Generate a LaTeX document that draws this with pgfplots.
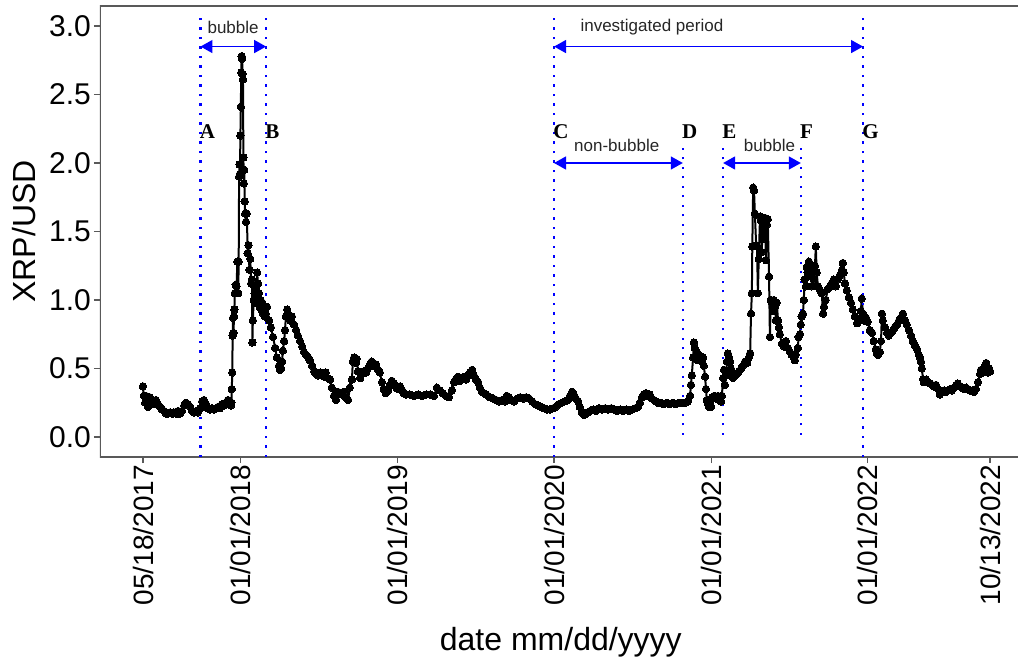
\documentclass[border=0pt]{standalone}
\usepackage{pgfplots}
\pgfplotsset{compat=1.18}
\usepackage{fontspec}
\setmainfont{Liberation Sans}
\newfontfamily\letterfont{Liberation Serif}
\usetikzlibrary{arrows.meta}
\begin{document}
\begin{tikzpicture}
\begin{axis}[
  name=ax,
  scale only axis,
  width=918pt, height=451pt,
  xmin=-100.2, xmax=2039.2,
  ymin=-0.146, ymax=3.146,
  axis line style={draw=none},
  xtick={0,228,593,958,1324,1689,1974},
  xticklabels={05/18/2017,01/01/2018,01/01/2019,01/01/2020,01/01/2021,01/01/2022,10/13/2022},
  ytick={0,0.5,1,1.5,2,2.5,3},
  yticklabels={0.0,0.5,1.0,1.5,2.0,2.5,3.0},
  tick align=outside,
  major tick length=6pt,
  tick style={black!65, line width=1.2pt},
  xtick pos=bottom, ytick pos=left,
  /pgf/number format/assume math mode=true,
  ticklabel style={black},
  x tick label style={font=\fontsize{28}{28}\selectfont, rotate=90, anchor=east, inner sep=2pt},
  y tick label style={font=\fontsize{30}{30}\selectfont, inner sep=3pt},
  xlabel={date mm/dd/yyyy},
  ylabel={XRP/USD},
  label style={font=\fontsize{32}{32}\selectfont, black},
  xlabel style={at={(rel axis cs:0.502,0)}, anchor=center, yshift=-185pt},
  ylabel style={at={(rel axis cs:0,0.5)}, anchor=center, rotate=0, yshift=76pt},
  clip=true,
]
\addplot[black, line width=2pt, line join=round, mark=*, mark size=3.7pt, mark options={fill=black, draw=black, line width=0pt}] coordinates {
(0,0.37)(2,0.30)(5,0.25)(7,0.30)(9,0.26)(12,0.22)(14,0.27)(16,0.29)(21,0.26)(26,0.24)(30,0.27)(35,0.24)(40,0.22)(44,0.20)(49,0.19)(54,0.17)(58,0.17)(63,0.18)(68,0.17)(72,0.18)(77,0.17)(82,0.19)(86,0.17)(91,0.19)(96,0.23)(100,0.25)(105,0.24)(110,0.22)(114,0.19)(119,0.18)(124,0.19)(128,0.18)(133,0.21)(138,0.26)(142,0.27)(147,0.24)(151,0.21)(156,0.20)(161,0.21)(165,0.20)(170,0.21)(175,0.22)(179,0.21)(184,0.24)(189,0.23)(193,0.25)(198,0.27)(203,0.25)(205,0.23)
(206,0.25)(207,0.35)(208,0.47)(209,0.74)(210,0.87)(211,0.76)(212,0.88)(213,0.93)(214,1.05)(216,1.11)(218,1.10)(220,1.28)(222,1.05)(223,1.28)(224,1.90)(225,1.99)(226,1.92)(227,2.20)(228,2.41)(229,2.66)(230,2.78)(231,2.76)(232,2.65)(233,2.61)(234,2.04)(235,1.85)(236,1.95)(237,1.72)(238,1.63)(240,1.57)(242,1.63)(244,1.34)(246,1.40)(248,1.22)(250,1.30)(252,1.12)(254,1.15)(255,0.69)(256,0.85)(258,1.00)(260,1.05)(262,0.98)(264,1.10)(266,1.20)(268,1.12)(270,1.05)(272,0.95)(274,1.00)(276,0.93)(278,0.98)(280,0.90)(282,0.95)(284,0.88)(286,0.90)
(289,0.95)(294,0.85)(298,0.80)(303,0.73)(308,0.65)(312,0.58)(317,0.52)(319,0.49)(322,0.50)(324,0.55)(326,0.63)(329,0.70)(331,0.78)(333,0.88)(336,0.93)(338,0.90)(343,0.85)(347,0.88)(352,0.82)(357,0.78)(361,0.74)(366,0.70)(371,0.66)(375,0.62)(380,0.60)(385,0.58)(389,0.56)(394,0.52)(399,0.48)(403,0.46)(408,0.45)(413,0.47)(417,0.45)(422,0.44)(426,0.47)(431,0.43)(436,0.42)(440,0.36)(445,0.30)(450,0.27)(454,0.33)(459,0.32)(464,0.31)(468,0.33)(473,0.29)(478,0.27)(482,0.36)(487,0.42)(489,0.55)(492,0.58)(496,0.54)(498,0.57)(501,0.48)(506,0.43)(510,0.46)(515,0.48)(520,0.47)(524,0.50)(529,0.53)(533,0.55)(538,0.52)(543,0.53)(548,0.49)(552,0.47)(557,0.40)(561,0.35)(566,0.32)(571,0.34)(575,0.38)(580,0.41)(585,0.39)(590,0.36)(594,0.35)(599,0.37)(604,0.34)(608,0.32)(613,0.31)(622,0.31)(632,0.30)(641,0.31)(650,0.30)(660,0.31)(669,0.31)(678,0.30)(685,0.36)(692,0.34)(699,0.32)(706,0.30)(713,0.29)(720,0.34)(725,0.40)(729,0.42)(734,0.44)(739,0.41)(743,0.43)(748,0.44)(753,0.42)(757,0.45)(762,0.47)(767,0.49)(771,0.45)(776,0.42)(781,0.40)(785,0.36)(790,0.33)(795,0.32)(799,0.31)(804,0.30)(809,0.29)(816,0.28)(823,0.27)(830,0.26)(837,0.27)(844,0.26)(848,0.30)(853,0.29)(858,0.27)(865,0.26)(872,0.28)(879,0.29)(886,0.28)(893,0.29)(900,0.28)(907,0.26)(914,0.24)(921,0.23)(928,0.22)(935,0.21)(942,0.20)(948,0.20)(956,0.21)(962,0.22)(969,0.24)(976,0.25)(983,0.26)(990,0.27)(995,0.30)(1000,0.33)(1004,0.31)(1009,0.28)(1014,0.26)(1018,0.22)(1023,0.18)(1028,0.16)(1032,0.17)(1037,0.18)(1042,0.19)(1049,0.20)(1056,0.19)(1063,0.21)(1070,0.20)(1077,0.21)(1084,0.20)(1091,0.21)(1098,0.20)(1105,0.19)(1112,0.20)(1119,0.19)(1126,0.20)(1133,0.19)(1140,0.20)(1147,0.21)(1154,0.22)(1158,0.25)(1163,0.29)(1167,0.31)(1172,0.32)(1177,0.30)(1181,0.31)(1186,0.28)(1191,0.27)(1196,0.26)(1200,0.25)(1207,0.25)(1214,0.24)(1221,0.25)(1228,0.24)(1235,0.25)(1242,0.24)(1249,0.25)(1256,0.25)(1263,0.25)(1270,0.26)(1275,0.30)(1277,0.38)(1279,0.45)(1282,0.58)(1284,0.69)(1286,0.65)(1289,0.60)(1291,0.62)(1293,0.56)(1296,0.58)(1298,0.57)(1300,0.59)(1303,0.55)(1305,0.58)(1307,0.52)(1310,0.44)(1312,0.35)(1314,0.27)(1317,0.24)(1319,0.22)(1321,0.25)(1324,0.22)(1326,0.29)(1331,0.30)(1336,0.28)(1340,0.30)(1345,0.27)(1347,0.26)(1349,0.30)(1352,0.43)(1354,0.49)(1356,0.38)(1359,0.45)(1361,0.55)(1363,0.61)(1366,0.58)(1368,0.55)(1370,0.50)(1373,0.47)(1375,0.43)(1380,0.45)(1384,0.46)(1389,0.48)(1394,0.50)(1398,0.52)(1403,0.55)(1408,0.54)(1412,0.58)(1415,0.61)(1417,0.90)(1419,1.05)(1420,1.39)(1422,1.82)(1424,1.80)(1426,1.63)(1429,1.40)(1431,1.39)(1433,1.05)(1435,1.30)(1438,1.61)(1440,1.58)(1442,1.35)(1445,1.60)(1447,1.45)(1449,1.60)(1452,1.29)(1454,1.55)(1456,1.59)(1459,1.17)(1461,0.73)(1463,1.00)(1466,0.98)(1468,0.92)(1470,1.00)(1473,0.95)(1475,0.85)(1477,0.98)(1480,0.85)(1482,0.80)(1484,0.75)(1489,0.68)(1494,0.66)(1498,0.70)(1503,0.65)(1508,0.62)(1512,0.60)(1517,0.58)(1519,0.56)(1521,0.60)(1526,0.65)(1528,0.73)(1531,0.75)(1533,0.82)(1535,0.88)(1538,0.90)(1540,1.00)(1542,1.15)(1545,1.10)(1547,1.24)(1549,1.20)(1552,1.28)(1554,1.18)(1556,1.25)(1559,1.10)(1561,1.22)(1563,1.15)(1566,1.25)(1568,1.39)(1570,1.20)(1573,1.10)(1578,1.07)(1582,1.05)(1585,0.90)(1587,0.95)(1591,1.00)(1596,1.08)(1601,1.10)(1605,1.12)(1610,1.15)(1615,1.10)(1619,1.15)(1624,1.18)(1629,1.22)(1631,1.27)(1633,1.20)(1636,1.12)(1640,1.07)(1645,1.02)(1650,0.98)(1654,0.93)(1659,0.88)(1664,0.83)(1668,0.86)(1673,0.92)(1675,1.01)(1678,0.90)(1680,0.85)(1685,0.87)(1689,0.84)(1694,0.78)(1699,0.76)(1703,0.70)(1708,0.64)(1710,0.61)(1713,0.60)(1717,0.62)(1720,0.70)(1722,0.90)(1724,0.85)(1729,0.80)(1734,0.76)(1738,0.74)(1743,0.76)(1748,0.78)(1752,0.80)(1757,0.82)(1762,0.85)(1766,0.87)(1771,0.90)(1776,0.85)(1780,0.82)(1785,0.78)(1790,0.74)(1794,0.70)(1799,0.67)(1804,0.64)(1808,0.60)(1811,0.58)(1813,0.55)(1815,0.50)(1818,0.42)(1820,0.40)(1825,0.42)(1829,0.40)(1834,0.39)(1839,0.38)(1843,0.37)(1848,0.38)(1853,0.35)(1857,0.31)(1862,0.33)(1867,0.34)(1871,0.33)(1876,0.34)(1881,0.35)(1885,0.34)(1890,0.36)(1895,0.38)(1899,0.39)(1904,0.37)(1909,0.36)(1913,0.35)(1918,0.36)(1923,0.35)(1927,0.34)(1932,0.34)(1937,0.33)(1941,0.35)(1946,0.40)(1951,0.46)(1953,0.49)(1958,0.47)(1962,0.52)(1965,0.54)(1967,0.50)(1969,0.47)(1972,0.50)(1974,0.48)
};
% frame (left, top, bottom)
\draw[black!65, line width=1.3pt] (rel axis cs:1,1) -- (rel axis cs:0,1) -- (rel axis cs:0,0) -- (rel axis cs:1,0);
% vertical dotted lines
\tikzset{vdot/.style={blue, line width=2.2pt, dash pattern=on 2.2pt off 7.3pt}}
\draw[vdot] (axis cs:134,-0.146) -- (axis cs:134,3.10);
\draw[vdot] (axis cs:287,-0.146) -- (axis cs:287,3.10);
\draw[vdot] (axis cs:958,-0.146) -- (axis cs:958,3.10);
\draw[vdot] (axis cs:1678,-0.146) -- (axis cs:1678,3.10);
\draw[vdot] (axis cs:1258,0.015) -- (axis cs:1258,2.12);
\draw[vdot] (axis cs:1352,0.015) -- (axis cs:1352,2.12);
\draw[vdot] (axis cs:1533,0.015) -- (axis cs:1533,2.12);
% arrows
\tikzset{barr/.style={blue, line width=1.5pt, {Triangle[length=12pt,width=13pt]}-{Triangle[length=12pt,width=13pt]}}}
\draw[barr] (axis cs:134,2.85) -- (axis cs:287,2.85);
\draw[barr] (axis cs:958,2.85) -- (axis cs:1678,2.85);
\draw[barr] (axis cs:958,2.0) -- (axis cs:1258,2.0);
\draw[barr] (axis cs:1352,2.0) -- (axis cs:1533,2.0);
% labels
\tikzset{ann/.style={font=\fontsize{17}{17}\selectfont, text=black!85, inner sep=0pt}}
\node[ann] at (axis cs:210,2.99) {bubble};
\node[ann] at (axis cs:1186,2.99) {investigated period};
\node[ann] at (axis cs:1104,2.13) {non-bubble};
\node[ann] at (axis cs:1460,2.13) {bubble};
\tikzset{let/.style={font=\letterfont\bfseries\fontsize{21}{21}\selectfont, anchor=west, inner sep=0pt}}
\node[let] at (axis cs:132,2.23) {A};
\node[let] at (axis cs:285,2.23) {B};
\node[let] at (axis cs:956,2.23) {C};
\node[let] at (axis cs:1256,2.23) {D};
\node[let] at (axis cs:1350,2.23) {E};
\node[let] at (axis cs:1531,2.23) {F};
\node[let] at (axis cs:1676,2.23) {G};
\end{axis}
\pgfresetboundingbox
\path ([xshift=-100pt,yshift=-208pt]ax.south west) rectangle ([yshift=6pt]ax.north east);
\end{tikzpicture}
\end{document}
